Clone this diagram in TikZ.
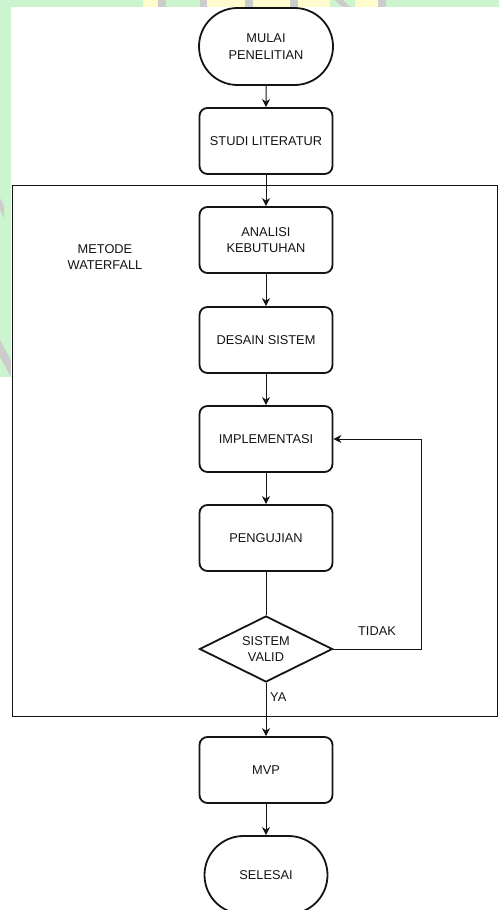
\documentclass[tikz,border=0pt]{standalone}
\usepackage{fontspec}
\setmainfont{Liberation Sans}
\usetikzlibrary{shapes.geometric,shapes.misc,arrows.meta}
\definecolor{wmgreen}{RGB}{204,245,207}
\definecolor{wmyellow}{RGB}{255,251,204}
\definecolor{wmgray}{RGB}{204,204,204}
\definecolor{ink}{RGB}{20,20,20}
\tikzset{
  x=1pt,y=-1pt,
  every node/.style={font=\fontsize{12.8}{16.5}\selectfont, text=ink, align=center},
  procbox/.style={draw=ink, line width=1.8pt, rounded corners=8pt, minimum width=133pt, minimum height=66pt, inner sep=0pt},
  termbox/.style={draw=ink, line width=1.8pt, rounded rectangle, rounded rectangle arc length=180, minimum width=134pt, minimum height=77pt, inner sep=0pt},
  decbox/.style={draw=ink, line width=1.8pt, diamond, aspect=2, minimum width=133pt, minimum height=66pt, inner sep=0pt},
  flow/.style={draw=ink, line width=1pt, -{Stealth[length=8pt,width=8pt,inset=2.5pt]}},
  plainline/.style={draw=ink, line width=1pt},
  lbl/.style={inner sep=0pt}
}
\begin{document}
\begin{tikzpicture}
\useasboundingbox (0,0) rectangle (499,910);
% watermark background fragments
\fill[wmgreen] (0,0) rectangle (499,7);
\fill[wmgreen] (0,0) rectangle (11,377);
\fill[wmyellow] (143,0) rectangle (158,7);
\fill[wmgray] (158,0) rectangle (166,7);
\fill[wmgray] (200,0) rectangle (207,7);
\fill[wmyellow] (207,0) rectangle (245,7);
\fill[wmgray] (245,0) rectangle (253,7);
\fill[wmyellow] (253,0) rectangle (290,7);
\fill[wmgray] (290,0) rectangle (298,7);
\fill[wmyellow] (298,0) rectangle (330,7);
\fill[wmgray] (335,0) -- (343,0) -- (350,7) -- (342,7) -- cycle;
\fill[wmyellow] (355,0) rectangle (378,7);
\fill[wmgray] (378,0) rectangle (386,7);
\fill[wmgray] (0,198) -- (4,206) -- (4,218) -- (0,210) -- cycle;
\fill[wmgray] (0,340) -- (11,360) -- (11,377) -- (0,357) -- cycle;
\fill[white] (11,7) rectangle (499,910);

% method frame
\node[draw=ink, line width=1.3pt, minimum width=485.5pt, minimum height=531pt, inner sep=0pt, anchor=north west] (frame) at (11.5,184.5) {};
\node[lbl] (metode) at (105,257) {METODE\\WATERFALL};

% nodes
\node[termbox] (mulai) at (266,46.5) {MULAI\\PENELITIAN};
\node[procbox] (studi) at (266,141) {STUDI LITERATUR};
\node[procbox] (analisi) at (266,240) {ANALISI\\KEBUTUHAN};
\node[procbox] (desain) at (266,340) {DESAIN SISTEM};
\node[procbox] (impl) at (266,439) {IMPLEMENTASI};
\node[procbox] (uji) at (266,538) {PENGUJIAN};
\node[decbox] (valid) at (266,649) {SISTEM\\VALID};
\node[procbox] (mvp) at (266,770) {MVP};
\node[termbox, minimum width=123pt, minimum height=78pt] (selesai) at (266,875) {SELESAI};

\coordinate (loop) at (421,649);

% connectors
\draw[flow] (mulai) -- (studi);
\draw[flow] (studi) -- (analisi);
\draw[flow] (analisi) -- (desain);
\draw[flow] (desain) -- (impl);
\draw[flow] (impl) -- (uji);
\draw[plainline] (uji) -- (valid);
\draw[flow] (valid.east) -- (loop) |- (impl.east);
\draw[flow] (valid.south) -- (mvp.north);
\draw[flow] (mvp) -- (selesai);

\node[lbl] (tidak) at (377,631) {TIDAK};
\node[lbl, anchor=west] (ya) at (270,697) {YA};
\end{tikzpicture}
\end{document}
